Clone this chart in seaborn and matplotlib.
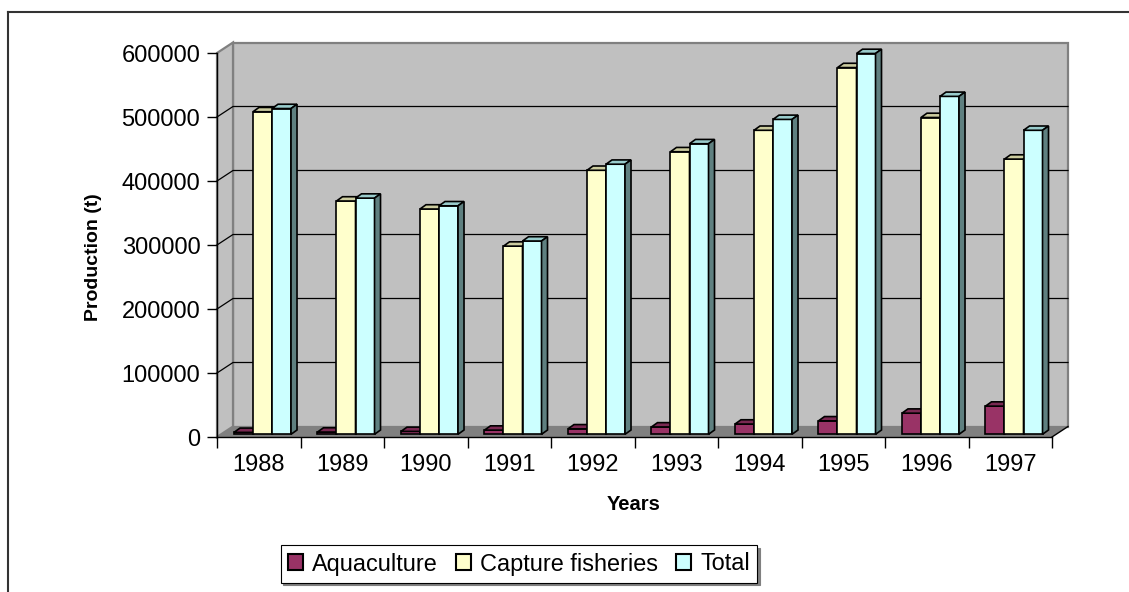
import numpy as np
import pandas as pd
import matplotlib
matplotlib.use("Agg")
import matplotlib.pyplot as plt
import seaborn as sns
from matplotlib.patches import Polygon, Patch
from matplotlib.lines import Line2D

# ---------------- data ----------------
years = ['1988', '1989', '1990', '1991', '1992', '1993', '1994', '1995', '1996', '1997']
series_names = ['Aquaculture', 'Capture fisheries', 'Total']
aquaculture = [3000, 3500, 4500, 6500, 8500, 11500, 16000, 21000, 33000, 44000]
capture = [504000, 364500, 352000, 294000, 412500, 441500, 475000, 573000, 495000, 430000]
total = [509000, 369000, 357000, 302000, 422000, 454000, 492000, 595000, 528000, 475000]
ytick_values = [0, 100000, 200000, 300000, 400000, 500000, 600000]

# ---------------- styles ----------------
front_colors = ['#993366', '#FFFFCC', '#CCFFFF']
top_colors = ['#7A2952', '#CCCC9F', '#99CCCC']
side_colors = ['#4D1A33', '#80805F', '#5F8080']

plt.rcParams['font.family'] = ['Liberation Sans', 'DejaVu Sans']

W, H = 1129, 592
fig = plt.figure(figsize=(W / 100, H / 100), dpi=100)
fig.patch.set_facecolor('white')
ax = fig.add_axes([217 / W, (H - 437) / H, 835 / W, 384 / H])
ax.set_facecolor('none')

df = pd.DataFrame({
    'Year': years * 3,
    'Series': np.repeat(series_names, len(years)),
    'Production': aquaculture + capture + total,
})

sns.barplot(data=df, x='Year', y='Production', hue='Series', hue_order=series_names,
            palette=dict(zip(series_names, front_colors)), width=0.683, saturation=1,
            edgecolor='black', linewidth=1.2, legend=False, errorbar=None, ax=ax)

x0, x1 = -0.5, len(years) - 0.5
ytop = ytick_values[-1]
ax.set_xlim(x0, x1)
ax.set_ylim(0, ytop)

# pixel -> data conversions
pxx = (x1 - x0) / 835.0
pxy = ytop / 384.0
wdx, wdy = 16 * pxx, 10.5 * pxy      # wall depth
bdx, bdy = 3.75 * pxx, 2.7 * pxy     # bar front plane offset
ddx, ddy = 6 * pxx, 4.3 * pxy        # bar depth

# walls and floor
ax.add_patch(Polygon([(x0 + wdx, wdy), (x1 + wdx, wdy), (x1 + wdx, ytop + wdy), (x0 + wdx, ytop + wdy)],
                     closed=True, facecolor='#C0C0C0', edgecolor='#808080', lw=1.6, zorder=0.5, clip_on=False))
ax.add_patch(Polygon([(x0, 0), (x0 + wdx, wdy), (x0 + wdx, ytop + wdy), (x0, ytop)],
                     closed=True, facecolor='#C0C0C0', edgecolor='#808080', lw=1.6, zorder=0.5, clip_on=False))
ax.add_patch(Polygon([(x0, 0), (x1, 0), (x1 + wdx, wdy), (x0 + wdx, wdy)],
                     closed=True, facecolor='#808080', edgecolor='none', zorder=0.7, clip_on=False))
for yv in ytick_values[1:-1]:
    ax.plot([x0, x0 + wdx, x1 + wdx], [yv, yv + wdy, yv + wdy], color='black', lw=0.9,
            zorder=0.6, clip_on=False)
ax.plot([x1, x1 + wdx], [0, wdy], color='black', lw=1.0, zorder=0.8, clip_on=False)

# 3D bars
for j, cont in enumerate(ax.containers):
    for p in cont:
        x = p.get_x() + bdx
        p.set_x(x)
        p.set_y(bdy)
        p.set_zorder(3 + 0.1 * j)
        p.set_clip_on(False)
        w, h = p.get_width(), p.get_height()
        yb, yt = bdy, bdy + h
        top = Polygon([(x, yt), (x + w, yt), (x + w + ddx, yt + ddy), (x + ddx, yt + ddy)],
                      closed=True, facecolor=top_colors[j], edgecolor='black', lw=1.2,
                      zorder=3 + 0.1 * j + 0.01, clip_on=False)
        side = Polygon([(x + w, yb), (x + w + ddx, yb + ddy), (x + w + ddx, yt + ddy), (x + w, yt)],
                       closed=True, facecolor=side_colors[j], edgecolor='black', lw=1.2,
                       zorder=3 + 0.1 * j + 0.01, clip_on=False)
        ax.add_patch(top)
        ax.add_patch(side)

# axes / ticks
for s in ['top', 'right']:
    ax.spines[s].set_visible(False)
for s in ['left', 'bottom']:
    ax.spines[s].set_color('black')
    ax.spines[s].set_linewidth(1.0)
    ax.spines[s].set_zorder(0.9)

ax.set_yticks(ytick_values)
ax.set_yticklabels([str(v) for v in ytick_values])
ax.tick_params(axis='y', direction='out', length=7, width=1, pad=5, labelsize=17, colors='black')

ax.set_xticks(np.arange(x0, x1 + 0.01, 1.0))
ax.set_xticklabels([''] * (len(years) + 1))
ax.set_xticks(np.arange(len(years)), minor=True)
ax.set_xticklabels(years, minor=True)
ax.tick_params(axis='x', which='major', direction='out', length=8, width=1, colors='black')
ax.tick_params(axis='x', which='minor', length=0, pad=12.5, labelsize=17, colors='black')
ax.set_xlabel('')
ax.set_ylabel('')
ax.grid(False)

fig.text(93 / W, 1 - 257 / H, 'Production (t)', rotation=90, ha='center', va='center',
         fontsize=14, fontweight='bold')
fig.text(634 / W, 1 - 505 / H, 'Years', ha='center', va='center', fontsize=14.5, fontweight='bold')

# legend
handles = [Patch(facecolor=c, edgecolor='black', linewidth=1.5) for c in front_colors]
leg = fig.legend(handles, series_names, loc='center', bbox_to_anchor=(519 / W, 1 - 564 / H),
                 ncol=3, frameon=True, fancybox=False, edgecolor='black', fontsize=16.9,
                 handlelength=0.65, handleheight=0.65, handletextpad=0.4, columnspacing=0.75,
                 borderpad=0.3, borderaxespad=0, shadow={'color': '#808080', 'alpha': 1})
leg.get_frame().set_linewidth(0.8)
leg.get_frame().set_facecolor('white')

# outer chart border (partially visible)
fig.add_artist(Line2D([8 / W, 1.0], [1 - 12 / H, 1 - 12 / H], color='#333333', lw=1.5))
fig.add_artist(Line2D([8 / W, 8 / W], [0.0, 1 - 12 / H], color='#333333', lw=1.5))

fig.savefig('out.png', dpi=100)
